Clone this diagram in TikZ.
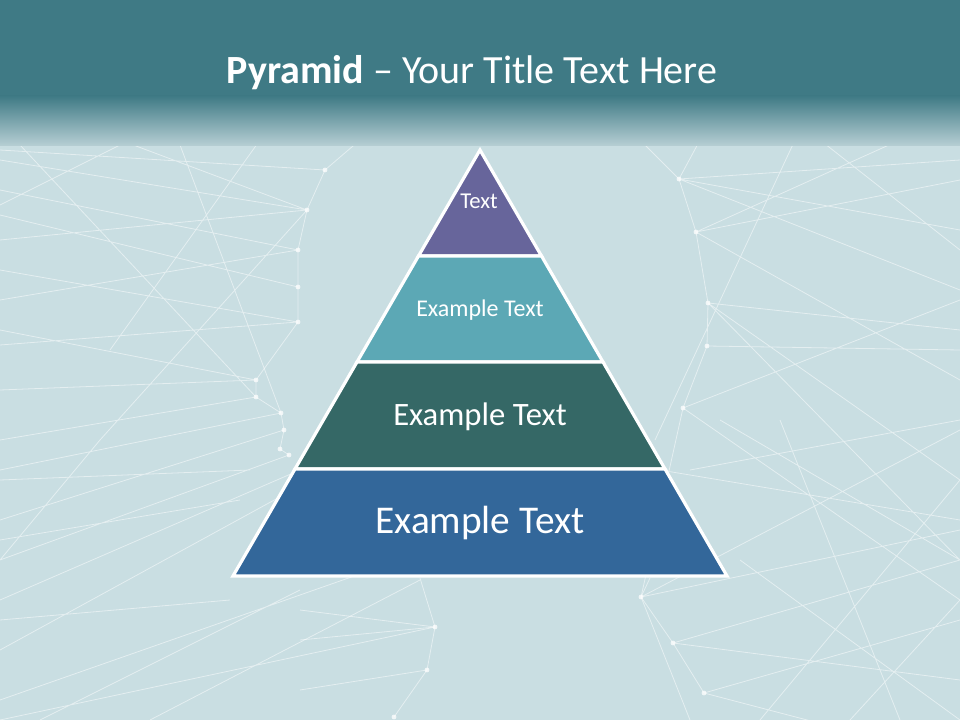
\documentclass[tikz,border=0pt]{standalone}
\usepackage{fontspec}
\setmainfont{Carlito}
\usetikzlibrary{calc}
\definecolor{titleColor}{HTML}{3F7A85}
\definecolor{fadeColor}{HTML}{B7CFD4}
\definecolor{paperColor}{HTML}{C9DEE2}
\definecolor{tierOneColor}{HTML}{67659B}
\definecolor{tierTwoColor}{HTML}{5CA8B5}
\definecolor{tierThreeColor}{HTML}{356866}
\definecolor{tierFourColor}{HTML}{33679A}

\begin{document}
\begin{tikzpicture}[x=0.75pt, y=-0.75pt,
    netLine/.style={white, opacity=0.5, line width=0.6pt},
    tier/.style={draw=white, line width=2.4pt, line join=miter},
    tierText/.style={text=white, anchor=base}]
    \useasboundingbox (0,0) rectangle (960,720);
    \fill[paperColor] (0,0) rectangle (960,720);

    % network in the background
    \coordinate (l1) at (307,210);
    \coordinate (l2) at (298,250);
    \coordinate (l3) at (298,287);
    \coordinate (l4) at (298,322);
    \coordinate (l5) at (256,380);
    \coordinate (l6) at (256,397);
    \coordinate (l7) at (281,413);
    \coordinate (l8) at (284,430);
    \coordinate (l9) at (280,449);
    \coordinate (l10) at (289,455);
    \coordinate (l0) at (325,170);
    \coordinate (r1) at (679,179);
    \coordinate (r2) at (696,232);
    \coordinate (r3) at (708,303);
    \coordinate (r4) at (707,346);
    \coordinate (r5) at (683,408);
    \coordinate (r6) at (641,597);
    \coordinate (r7) at (673,643);
    \coordinate (r8) at (704,693);
    \coordinate (b1) at (435,627);
    \coordinate (b2) at (427,670);
    \coordinate (b3) at (394,717);

    \draw[netLine] (l0) -- (l1) -- (l2) -- (l3) -- (l4) -- (l5) -- (l6) -- (l7) -- (l8) -- (l9) -- (l10);
    \draw[netLine] (l1) -- (0,160) (l1) -- (0,240) (l1) -- (120,140) (l1) -- (100,440) -- (0,560)
        (l2) -- (0,190) (l2) -- (0,300) (l3) -- (0,215) (l4) -- (0,270) (l4) -- (0,345)
        (l5) -- (0,330) (l5) -- (0,390) (l6) -- (0,440) (l7) -- (0,470) (l8) -- (0,520)
        (l10) -- (0,560) (20,145) -- (l6) (180,145) -- (l7) (l0) -- (0,150) (l0) -- (360,140)
        (0,600) -- (300,470) (0,650) -- (320,475) (0,700) -- (400,560) (0,720) -- (b1)
        (0,540) -- (240,500) (40,720) -- (300,590) (0,620) -- (230,600) (260,140) -- (110,350)
        (150,720) -- (420,580) (0,480) -- (250,470) (120,145) -- (0,205);
    \draw[netLine] (r1) -- (r2) -- (r3) -- (r4) -- (r5) (r6) -- (r7) -- (r8)
        (r1) -- (960,230) (r1) -- (960,290) (r1) -- (700,140) (r1) -- (640,140) (r1) -- (960,160)
        (r2) -- (960,180) (r2) -- (960,380) (r2) -- (900,140) (r3) -- (960,480) (r3) -- (960,330)
        (r3) -- (960,560) (r4) -- (960,350) (r5) -- (960,600) (r5) -- (960,300) (655,440) -- (795,140)
        (r6) -- (960,530) (r6) -- (960,430) (r7) -- (960,560) (r7) -- (960,680) (r8) -- (960,620)
        (r8) -- (960,760) (720,420) -- (960,560) (760,720) -- (960,480) (850,720) -- (960,600)
        (900,720) -- (780,420) (690,470) -- (960,420) (820,140) -- (960,250) (740,560) -- (960,720)
        (r6) -- (r5) (660,470) -- (960,520);
    \draw[netLine] (b1) -- (b2) -- (b3) (b1) -- (420,578) (b1) -- (300,610) (b2) -- (300,690)
        (b1) -- (300,640) (r6) -- (650,578) (r6) -- (690,720);
    \foreach \p in {l0,l1,l2,l3,l4,l5,l6,l7,l8,l9,l10,r1,r2,r3,r4,r5,r6,r7,r8,b1,b2,b3}
        \fill[white, opacity=0.75] (\p) circle (1.8pt);

    % title bar
    \fill[titleColor] (0,0) rectangle (960,96);
    \shade[top color=titleColor, bottom color=fadeColor] (0,96) rectangle (960,146);
    \node[text=white, anchor=base, font=\fontsize{30}{36}\selectfont] (title) at (472,84)
        {\textbf{Pyramid} -- Your Title Text Here};

    % pyramid tiers
    \path[tier, fill=tierOneColor] (480,150) -- (541.5,256) -- (418.5,256) -- cycle;
    \path[tier, fill=tierTwoColor] (418.5,256) -- (541.5,256) -- (603,362) -- (357,362) -- cycle;
    \path[tier, fill=tierThreeColor] (357,362) -- (603,362) -- (665,469) -- (295,469) -- cycle;
    \path[tier, fill=tierFourColor] (295,469) -- (665,469) -- (727,576) -- (233,576) -- cycle;

    \node[tierText, font=\fontsize{17}{20}\selectfont] (text1) at (479,209) {Text};
    \node[tierText, font=\fontsize{18}{22}\selectfont] (text2) at (480,316) {Example Text};
    \node[tierText, font=\fontsize{24.5}{29}\selectfont] (text3) at (480,425) {Example Text};
    \node[tierText, font=\fontsize{29.5}{35}\selectfont] (text4) at (480,533) {Example Text};
\end{tikzpicture}
\end{document}
